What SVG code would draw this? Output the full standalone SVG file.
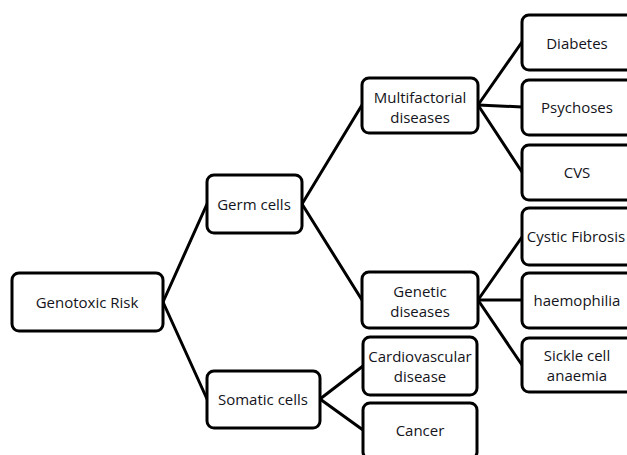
<svg xmlns="http://www.w3.org/2000/svg" width="627" height="455" viewBox="0 0 627 455">
  <style>
    .box { fill: #ffffff; stroke: #000000; stroke-width: 3; }
    .lbl { font-family: "Open Sans", "Liberation Sans", sans-serif; font-size: 15px; fill: #141420; text-anchor: middle; dominant-baseline: central; }
    .edge { stroke: #000000; stroke-width: 3; fill: none; stroke-linecap: round; }
  </style>
  <rect width="627" height="455" fill="#ffffff"/>

  <g id="connectors">
    <line class="edge" x1="163" y1="302" x2="207" y2="204"/>
    <line class="edge" x1="163" y1="302" x2="207" y2="399"/>
    <line class="edge" x1="302" y1="204" x2="362" y2="105"/>
    <line class="edge" x1="302" y1="204" x2="362" y2="300"/>
    <line class="edge" x1="320" y1="399" x2="363" y2="366"/>
    <line class="edge" x1="320" y1="399" x2="363" y2="430"/>
    <line class="edge" x1="478" y1="105" x2="522" y2="42"/>
    <line class="edge" x1="478" y1="105" x2="522" y2="107"/>
    <line class="edge" x1="478" y1="105" x2="522" y2="172"/>
    <line class="edge" x1="478" y1="300" x2="522" y2="237"/>
    <line class="edge" x1="478" y1="300" x2="522" y2="300"/>
    <line class="edge" x1="478" y1="300" x2="522" y2="365"/>
  </g>

  <g id="genotoxic-risk">
    <rect class="box" x="12" y="273" width="151" height="58" rx="7"/>
    <text class="lbl" x="87" y="302">Genotoxic Risk</text>
  </g>
  <g id="germ-cells">
    <rect class="box" x="207" y="175" width="95" height="58" rx="7"/>
    <text class="lbl" x="254" y="204">Germ cells</text>
  </g>
  <g id="somatic-cells">
    <rect class="box" x="207" y="371" width="113" height="57" rx="7"/>
    <text class="lbl" x="263" y="399">Somatic cells</text>
  </g>
  <g id="multifactorial">
    <rect class="box" x="362" y="78" width="116" height="55" rx="7"/>
    <text class="lbl" x="420" y="97">Multifactorial</text>
    <text class="lbl" x="420" y="117">diseases</text>
  </g>
  <g id="genetic">
    <rect class="box" x="362" y="272" width="116" height="56" rx="7"/>
    <text class="lbl" x="420" y="291">Genetic</text>
    <text class="lbl" x="420" y="311">diseases</text>
  </g>
  <g id="cardiovascular">
    <rect class="box" x="363" y="337" width="114" height="58" rx="7"/>
    <text class="lbl" x="420" y="356">Cardiovascular</text>
    <text class="lbl" x="420" y="376">disease</text>
  </g>
  <g id="cancer">
    <rect class="box" x="363" y="403" width="114" height="56" rx="7"/>
    <text class="lbl" x="420" y="430">Cancer</text>
  </g>
  <g id="diabetes">
    <rect class="box" x="522" y="15" width="120" height="55" rx="7"/>
    <text class="lbl" x="577" y="43">Diabetes</text>
  </g>
  <g id="psychoses">
    <rect class="box" x="522" y="80" width="120" height="55" rx="7"/>
    <text class="lbl" x="577" y="107">Psychoses</text>
  </g>
  <g id="cvs">
    <rect class="box" x="522" y="145" width="120" height="55" rx="7"/>
    <text class="lbl" x="577" y="172">CVS</text>
  </g>
  <g id="cystic-fibrosis">
    <rect class="box" x="522" y="208" width="120" height="57" rx="7"/>
    <text class="lbl" x="576" y="236">Cystic Fibrosis</text>
  </g>
  <g id="haemophilia">
    <rect class="box" x="522" y="273" width="120" height="55" rx="7"/>
    <text class="lbl" x="577" y="300">haemophilia</text>
  </g>
  <g id="sickle-cell">
    <rect class="box" x="522" y="338" width="120" height="54" rx="7"/>
    <text class="lbl" x="577" y="355">Sickle cell</text>
    <text class="lbl" x="577" y="375">anaemia</text>
  </g>
</svg>
